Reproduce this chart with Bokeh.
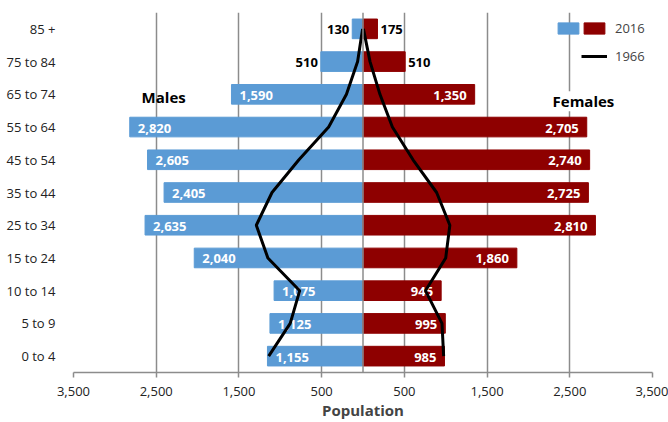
from bokeh.plotting import figure
from bokeh.models import (FactorRange, Range1d, FixedTicker, Span, Legend, LegendItem,
                          ColumnDataSource, CustomJSTickFormatter)
from bokeh.core.properties import value
from bokeh.embed import file_html
from bokeh.resources import INLINE

# ---------------- data ----------------
age_groups = ["0 to 4", "5 to 9", "10 to 14", "15 to 24", "25 to 34", "35 to 44",
              "45 to 54", "55 to 64", "65 to 74", "75 to 84", "85 +"]
males_2016 = [1155, 1125, 1075, 2040, 2635, 2405, 2605, 2820, 1590, 510, 130]
females_2016 = [985, 995, 945, 1860, 2810, 2725, 2740, 2705, 1350, 510, 175]
males_1966 = [1140, 880, 765, 1150, 1290, 1100, 775, 415, 200, 65, 5]
females_1966 = [975, 955, 755, 1000, 1050, 890, 605, 355, 205, 85, 5]
x_ticks = [-3500, -2500, -1500, -500, 500, 1500, 2500, 3500]
x_axis_title = "Population"
side_titles = ["Males", "Females"]
legend_labels = ["2016", "1966"]

FONT = "Open Sans"
BLUE = "#5B9BD5"
RED = "#8E0000"
GRID = "#8C8C8C"
INSIDE_MIN = 600

def fmt(v):
    return f"{v:,}"

src = ColumnDataSource(dict(
    age=age_groups,
    mleft=[-v for v in males_2016],
    fright=females_2016,
))

m_in = [i for i, v in enumerate(males_2016) if v >= INSIDE_MIN]
m_out = [i for i, v in enumerate(males_2016) if v < INSIDE_MIN]
f_in = [i for i, v in enumerate(females_2016) if v >= INSIDE_MIN]
f_out = [i for i, v in enumerate(females_2016) if v < INSIDE_MIN]

def lab_src(vals, idx, sign):
    return ColumnDataSource(dict(
        x=[sign * vals[i] for i in idx],
        y=[age_groups[i] for i in idx],
        t=[fmt(vals[i]) for i in idx],
    ))

p = figure(width=668, height=422,
           y_range=FactorRange(factors=age_groups),
           x_range=Range1d(-3500, 3500),
           output_backend="svg", toolbar_location=None,
           min_border_left=73, min_border_right=16,
           min_border_top=12, min_border_bottom=47)

p.outline_line_color = None
p.background_fill_color = "white"

# grid
p.xgrid.ticker = FixedTicker(ticks=x_ticks)
p.xgrid.grid_line_color = GRID
p.xgrid.grid_line_width = 1.5
p.ygrid.visible = False
p.add_layout(Span(location=0, dimension="height", line_color=GRID, line_width=1.5))

# bars
mb = p.hbar(y="age", left="mleft", right=0, height=0.6, source=src,
            fill_color=BLUE, line_color=BLUE)
fb = p.hbar(y="age", left=0, right="fright", height=0.6, source=src,
            fill_color=RED, line_color=RED)

# labels
common = dict(text_font=value(FONT), text_font_style="bold", text_font_size="13px",
              text_baseline="middle")
p.text(x="x", y="y", text="t", source=lab_src(males_2016, m_in, -1),
       text_align="left", x_offset=8, y_offset=1, text_color="white", **common)
p.text(x="x", y="y", text="t", source=lab_src(males_2016, m_out, -1),
       text_align="right", x_offset=-3, y_offset=1, text_color="black", **common)
p.text(x="x", y="y", text="t", source=lab_src(females_2016, f_in, 1),
       text_align="right", x_offset=-8, y_offset=1, text_color="white", **common)
p.text(x="x", y="y", text="t", source=lab_src(females_2016, f_out, 1),
       text_align="left", x_offset=3, y_offset=1, text_color="black", **common)

# 1966 lines
ml = p.line(x=[-v for v in males_1966], y=age_groups, line_color="black", line_width=3)
fl = p.line(x=females_1966, y=age_groups, line_color="black", line_width=3)

# side titles
p.text(x=[-2410], y=["65 to 74"], text=[side_titles[0]], text_align="center",
       text_baseline="middle", y_offset=3, text_font=value(FONT),
       text_font_style="bold", text_font_size="15px", text_color="black")
p.text(x=[2665], y=["65 to 74"], text=[side_titles[1]], text_align="center",
       text_baseline="middle", y_offset=7, text_font=value(FONT),
       text_font_style="bold", text_font_size="15px", text_color="black",
       background_fill_color="white")

# axes
p.xaxis.ticker = FixedTicker(ticks=x_ticks)
p.xaxis.formatter = CustomJSTickFormatter(code="return Math.abs(tick).toLocaleString('en-US');")
p.xaxis.axis_line_color = GRID
p.xaxis.axis_line_width = 1.5
p.xaxis.major_tick_line_color = GRID
p.xaxis.major_tick_line_width = 1.5
p.xaxis.major_tick_out = 5
p.xaxis.major_tick_in = 0
p.xaxis.minor_tick_line_color = None
p.xaxis.major_label_standoff = 9
p.xaxis.major_label_text_font = FONT
p.xaxis.major_label_text_font_size = "13px"
p.xaxis.major_label_text_color = "#222222"
p.xaxis.axis_label = x_axis_title
p.xaxis.axis_label_text_font = FONT
p.xaxis.axis_label_text_font_style = "bold"
p.xaxis.axis_label_text_font_size = "15px"
p.xaxis.axis_label_standoff = 1

p.yaxis.axis_line_color = None
p.yaxis.major_tick_line_color = None
p.yaxis.minor_tick_line_color = None
p.yaxis.major_label_standoff = 12
p.yaxis.major_label_text_font = FONT
p.yaxis.major_label_text_font_size = "13px"
p.yaxis.major_label_text_color = "#222222"

# legend: blue half swatch, then red half swatch with "2016", and the 1966 line
legend_a = Legend(items=[LegendItem(label="", renderers=[mb])],
                  location=(482, 334), orientation="vertical",
                  glyph_width=26, glyph_height=14, label_height=20, spacing=8,
                  padding=4, label_standoff=0, margin=0,
                  border_line_color=None, background_fill_alpha=0,
                  label_text_font=FONT, label_text_font_size="13px")
legend_b = Legend(items=[LegendItem(label=legend_labels[0], renderers=[fb]),
                         LegendItem(label=legend_labels[1], renderers=[ml])],
                  location=(508, 306), orientation="vertical",
                  glyph_width=26, glyph_height=14, label_height=20, spacing=8,
                  padding=4, label_standoff=8, margin=0,
                  border_line_color=None, background_fill_alpha=0,
                  label_text_font=FONT, label_text_font_size="13px")
p.add_layout(legend_a)
p.add_layout(legend_b)

open("out.html", "w").write(file_html(p, INLINE))
